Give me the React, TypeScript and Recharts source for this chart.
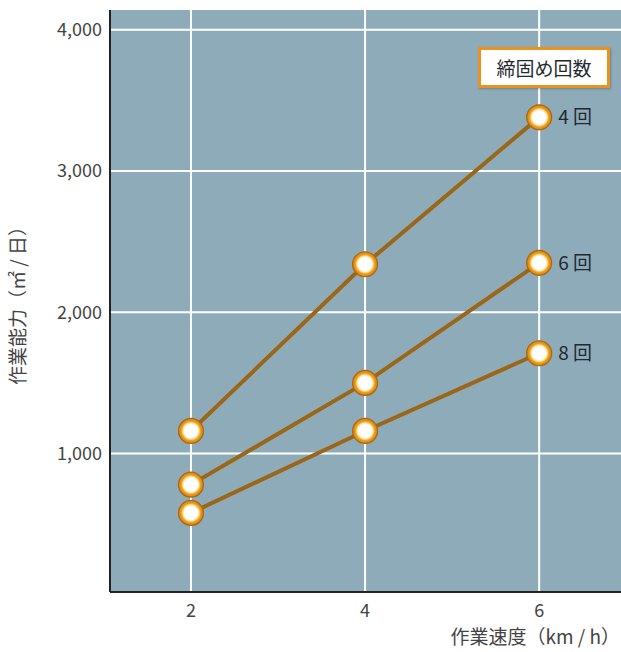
import React from 'react';
import { LineChart, Line, XAxis, YAxis, CartesianGrid } from 'recharts';

const speeds = [2, 4, 6];
const passes4 = [1160, 2340, 3380];
const passes6 = [780, 1500, 2350];
const passes8 = [580, 1160, 1710];
const seriesKeys = ['p4', 'p6', 'p8'];
const seriesLabels = ['4 回', '6 回', '8 回'];
const xTicks = [2, 4, 6];
const yTicks = [1000, 2000, 3000, 4000];

const data = speeds.map((s, i) => ({ speed: s, p4: passes4[i], p6: passes6[i], p8: passes8[i] }));

const COLORS = {
  plotBg: '#8eabba',
  line: '#9b6618',
  ring: '#e8941c',
  frame: '#222',
  tick: '#444',
};

const FONT = '"Noto Sans CJK JP", "Noto Sans", sans-serif';

const RingDot = ({ cx, cy }: any) => {
  if (cx == null || cy == null) return null;
  return <circle cx={cx} cy={cy} r={12.5} fill="url(#ringGrad)" stroke="#a86a14" strokeWidth={1.2} />;
};

// series name next to the last point only
const EndLabel = ({ x, y, index, text }: any) => {
  if (index !== speeds.length - 1) return null;
  return (
    <text x={x + 19} y={y} dy={7} fill="#1f2a30" fontFamily={FONT} fontSize={19}>
      {text}
    </text>
  );
};

export default function App() {
  return (
    <div style={{ position: 'absolute', left: 0, top: 0, width: 621, height: 652, background: '#fff', fontFamily: FONT }}>
      <LineChart width={621} height={652} data={data} margin={{ top: 10, right: 0, bottom: 0, left: 0 }}>
        <defs>
          <radialGradient id="ringGrad" cx="50%" cy="50%" r="50%">
            <stop offset="0%" stopColor="#ffffff" />
            <stop offset="52%" stopColor="#ffffff" />
            <stop offset="64%" stopColor="#ffe6a0" />
            <stop offset="76%" stopColor="#f3a21f" />
            <stop offset="92%" stopColor="#dc8812" />
            <stop offset="100%" stopColor="#b87414" />
          </radialGradient>
        </defs>
        <CartesianGrid stroke="#ffffff" strokeWidth={2} fill={COLORS.plotBg} fillOpacity={1} verticalValues={xTicks} horizontalValues={yTicks} />
        <XAxis
          dataKey="speed"
          type="number"
          domain={[1.07, 6.94]}
          ticks={xTicks}
          allowDataOverflow
          height={60}
          tickLine={false}
          tickMargin={6}
          axisLine={{ stroke: COLORS.frame, strokeWidth: 2 }}
          tick={{ fill: COLORS.tick, fontSize: 18, fontFamily: FONT }}
        />
        <XAxis
          xAxisId="top"
          orientation="top"
          dataKey="speed"
          type="number"
          domain={[1.07, 6.94]}
          height={0}
          tick={false}
          tickLine={false}
          axisLine={{ stroke: COLORS.frame, strokeWidth: 2 }}
        />
        <YAxis
          type="number"
          domain={[20, 4140]}
          ticks={yTicks}
          allowDataOverflow
          width={110}
          tickLine={false}
          tickMargin={2}
          tickFormatter={(v: number) => v.toLocaleString('en-US')}
          axisLine={{ stroke: COLORS.frame, strokeWidth: 2 }}
          tick={{ fill: COLORS.tick, fontSize: 18, fontFamily: FONT }}
          label={{
            value: '作業能力（㎡ / 日）',
            angle: -90,
            position: 'insideLeft',
            offset: 18,
            style: { textAnchor: 'middle', fill: COLORS.tick, fontSize: 19, fontFamily: FONT },
          }}
        />
        {seriesKeys.map((k, i) => (
          <Line
            key={k}
            dataKey={k}
            stroke={COLORS.line}
            strokeWidth={4}
            dot={<RingDot />}
            activeDot={false}
            isAnimationActive={false}
            label={(props: any) => <EndLabel {...props} text={seriesLabels[i]} />}
          />
        ))}
      </LineChart>
      {/* legend title box */}
      <div
        style={{
          position: 'absolute',
          left: 478,
          top: 47,
          width: 126,
          height: 35,
          border: `3px solid ${COLORS.ring}`,
          background: '#fff',
          color: '#1f2a30',
          fontSize: 19,
          lineHeight: '35px',
          textAlign: 'center',
          whiteSpace: 'nowrap',
          boxShadow: '1px 1px 2px rgba(0,0,0,0.25)',
        }}
      >
        締固め回数
      </div>
      <div
        style={{
          position: 'absolute',
          left: 0,
          top: 622,
          width: 620,
          textAlign: 'right',
          fontSize: 19,
          color: COLORS.tick,
          whiteSpace: 'nowrap',
        }}
      >
        作業速度（km / h）
      </div>
    </div>
  );
}
